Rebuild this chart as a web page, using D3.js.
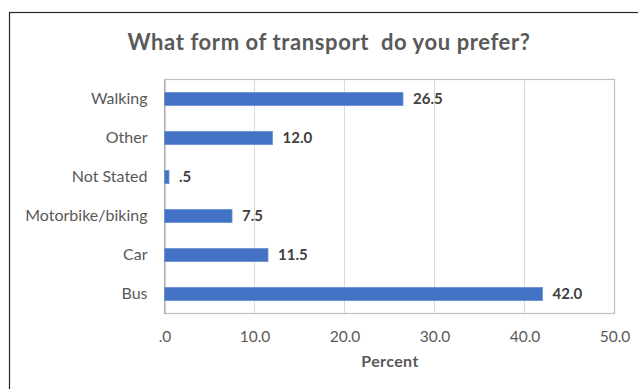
<!DOCTYPE html>
<html>
<head>
<meta charset="utf-8">
<script src="https://cdn.jsdelivr.net/npm/d3@7"></script>
<style>
  body { margin: 0; background: #fff; }
  svg { display: block; font-family: Lato, "Open Sans", sans-serif; }
</style>
</head>
<body>
<svg id="chart" width="638" height="389"></svg>
<script>
// data
const categories = ["Walking", "Other", "Not Stated", "Motorbike/biking", "Car", "Bus"];
const values = [26.5, 12.0, 0.5, 7.5, 11.5, 42.0];
const tickValues = [0, 10, 20, 30, 40, 50];

const chart = d3.select("#chart");

// outer chart frame (runs off the right/bottom edge)
chart.append("rect")
    .attr("x", 9.5).attr("y", 12.5)
    .attr("width", 700).attr("height", 400)
    .attr("fill", "none")
    .attr("stroke", "#262626")
    .attr("stroke-width", 1.2);

// title
chart.append("text")
    .text("What form of transport \u00a0do you prefer?")
    .attr("x", 329).attr("y", 50)
    .attr("text-anchor", "middle")
    .attr("font-size", "22px")
    .attr("letter-spacing", "0.6px")
    .attr("font-weight", 700)
    .attr("fill", "#595959");

const plotL = 164.5, plotR = 614.5, plotT = 79.5, plotB = 313.5;

let x = d3.scaleLinear().domain([0, 50]).range([plotL, plotR]);
let y = d3.scaleBand().domain(categories).range([plotT, plotB]).paddingInner(0.66).paddingOuter(0.33);

// gridlines
chart.append("g")
    .selectAll("line")
    .data(tickValues)
    .enter()
    .append("line")
    .attr("x1", d => x(d)).attr("x2", d => x(d))
    .attr("y1", plotT).attr("y2", plotB)
    .attr("stroke", "#d9d9d9")
    .attr("stroke-width", 1);

// plot frame
chart.append("rect")
    .attr("x", plotL).attr("y", plotT)
    .attr("width", plotR - plotL).attr("height", plotB - plotT)
    .attr("fill", "none")
    .attr("stroke", "#bfbfbf")
    .attr("stroke-width", 1.2);

// x axis labels
let xAxis = d3.axisBottom(x)
    .tickValues(tickValues)
    .tickSize(0)
    .tickPadding(17)
    .tickFormat(d => d === 0 ? ".0" : d3.format(".1f")(d));
let xAxisGroup = chart.append("g")
    .attr("transform", "translate(0," + plotB + ")")
    .call(xAxis);
xAxisGroup.select(".domain").remove();
xAxisGroup.selectAll("text")
    .attr("font-size", "15.5px")
    .attr("font-family", "Lato, sans-serif")
    .attr("fill", "#595959");

// y axis labels
let yAxis = d3.axisLeft(y).tickSize(0).tickPadding(17);
let yAxisGroup = chart.append("g")
    .attr("transform", "translate(" + plotL + ",0)")
    .call(yAxis);
yAxisGroup.select(".domain")
    .attr("stroke", "#a6a6a6");
yAxisGroup.selectAll("text")
    .attr("font-size", "16px")
    .attr("font-family", "Lato, sans-serif")
    .attr("fill", "#595959");

// x axis title
chart.append("text")
    .text("Percent")
    .attr("x", 390).attr("y", 367)
    .attr("text-anchor", "middle")
    .attr("font-size", "16px")
    .attr("letter-spacing", "0.4px")
    .attr("font-weight", 700)
    .attr("fill", "#595959");

// bars
chart.selectAll("rect.bar")
    .data(values)
    .enter()
    .append("rect")
    .attr("class", "bar")
    .attr("x", x(0))
    .attr("y", (d, i) => y(categories[i]))
    .attr("width", d => x(d) - x(0))
    .attr("height", y.bandwidth())
    .attr("fill", "#4472c4")
    .attr("stroke", "#6f92d3")
    .attr("stroke-width", 0.8);

// value labels
chart.selectAll("text.val")
    .data(values)
    .enter()
    .append("text")
    .attr("class", "val")
    .text(d => d < 1 ? "." + Math.round(d * 10) : d3.format(".1f")(d))
    .attr("x", d => x(d) + 10)
    .attr("y", (d, i) => y(categories[i]) + y.bandwidth() / 2)
    .attr("dy", "0.36em")
    .attr("font-size", "15px")
    .attr("font-weight", 700)
    .attr("fill", "#404040");
</script>
</body>
</html>
